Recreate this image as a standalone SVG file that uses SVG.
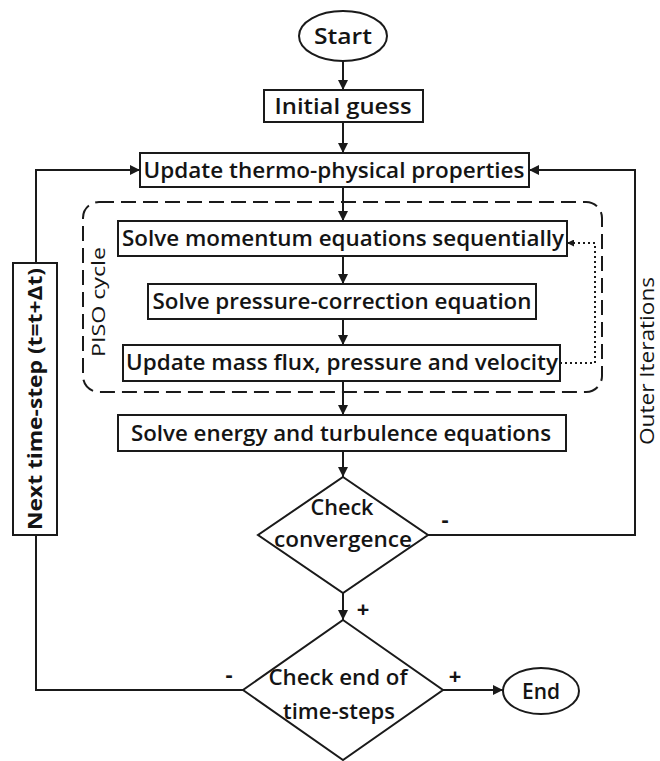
<svg xmlns="http://www.w3.org/2000/svg" width="660" height="761" viewBox="0 0 660 761">
<defs>
<marker id="ah" viewBox="0 0 10 10" refX="10" refY="5" markerWidth="10" markerHeight="10" markerUnits="userSpaceOnUse" orient="auto">
<path d="M0,0 L10,5 L0,10 z" fill="#1a1a1a"/>
</marker>
<marker id="ahs" viewBox="0 0 10 10" refX="10" refY="5" markerWidth="7" markerHeight="7" markerUnits="userSpaceOnUse" orient="auto">
<path d="M0,0 L10,5 L0,10 z" fill="#1a1a1a"/>
</marker>
<style>
.box{fill:#fff;stroke:#1a1a1a;stroke-width:2}
.t{font-family:"Open Sans","Liberation Sans",sans-serif;font-size:22px;font-weight:600;fill:#141414;text-anchor:middle}
.c{fill:none;stroke:#1a1a1a;stroke-width:2}
.ar{marker-end:url(#ah)}
.dash{fill:none;stroke:#1a1a1a;stroke-width:2;stroke-dasharray:15 7}
.dot{fill:none;stroke:#1a1a1a;stroke-width:2;stroke-dasharray:2 3}
.lbl{font-family:"Open Sans","Liberation Sans",sans-serif;font-size:22px;fill:#141414;font-weight:bold;text-anchor:middle}
.side{font-family:"Open Sans","Liberation Sans",sans-serif;font-weight:normal;fill:#141414;text-anchor:middle}
</style>
</defs>
<rect width="660" height="761" fill="#fff"/>

<g id="piso-cycle">
<rect class="dash" x="83" y="202" width="519" height="190" rx="16"/>
<text class="side" transform="translate(105,302) rotate(-90)" style="font-size:19px" textLength="110" lengthAdjust="spacingAndGlyphs">PISO cycle</text>
</g>

<g id="connectors">
<line class="c ar" x1="343" y1="61" x2="343" y2="90"/>
<line class="c ar" x1="343" y1="122" x2="343" y2="153"/>
<line class="c ar" x1="343" y1="187" x2="343" y2="221"/>
<line class="c ar" x1="343" y1="256" x2="343" y2="284"/>
<line class="c ar" x1="343" y1="319" x2="343" y2="345"/>
<line class="c ar" x1="343" y1="381" x2="343" y2="415"/>
<line class="c ar" x1="343" y1="451" x2="343" y2="477"/>
<line class="c ar" x1="343" y1="593" x2="343" y2="620"/>
<polyline class="c ar" points="428,535 635,535 635,170 529,170"/>
<polyline class="c" points="243,690 36,690 36,535"/>
<polyline class="c ar" points="36,263 36,170 140,170"/>
<line class="c ar" x1="442" y1="690" x2="503" y2="690"/>
<polyline class="dot" points="560,363 595,363 595,243 574,243"/>
<line x1="575" y1="243" x2="567" y2="243" stroke="#1a1a1a" stroke-width="2" marker-end="url(#ahs)"/>
<text class="lbl" x="445" y="527">-</text>
<text class="lbl" x="363" y="617">+</text>
<text class="lbl" x="229" y="682">-</text>
<text class="lbl" x="455" y="684">+</text>
<text class="side" transform="translate(654,361) rotate(-90)" style="font-size:20px" textLength="168" lengthAdjust="spacingAndGlyphs">Outer Iterations</text>
</g>

<g id="start">
<ellipse class="box" cx="343" cy="36" rx="44" ry="25"/>
<text class="t" x="343" y="44" textLength="58" lengthAdjust="spacingAndGlyphs">Start</text>
</g>

<g id="initial-guess">
<rect class="box" x="264" y="90" width="159" height="32"/>
<text class="t" x="343" y="114" textLength="137" lengthAdjust="spacingAndGlyphs">Initial guess</text>
</g>

<g id="update-thermo">
<rect class="box" x="140" y="153" width="389" height="34"/>
<text class="t" x="334" y="178" textLength="381" lengthAdjust="spacingAndGlyphs">Update thermo-physical properties</text>
</g>

<g id="solve-momentum">
<rect class="box" x="118" y="221" width="449" height="35"/>
<text class="t" x="343" y="246" textLength="442" lengthAdjust="spacingAndGlyphs">Solve momentum equations sequentially</text>
</g>

<g id="solve-pressure">
<rect class="box" x="148" y="284" width="388" height="35"/>
<text class="t" x="342" y="309" textLength="379" lengthAdjust="spacingAndGlyphs">Solve pressure-correction equation</text>
</g>

<g id="update-mass">
<rect class="box" x="123" y="345" width="437" height="36"/>
<text class="t" x="342" y="370" textLength="432" lengthAdjust="spacingAndGlyphs">Update mass flux, pressure and velocity</text>
</g>

<g id="solve-energy">
<rect class="box" x="118" y="415" width="448" height="36"/>
<text class="t" x="341" y="441" textLength="420" lengthAdjust="spacingAndGlyphs">Solve energy and turbulence equations</text>
</g>

<g id="check-convergence">
<polygon class="box" points="343,477 428,535 343,593 258,535"/>
<text class="t" x="342" y="515" textLength="63" lengthAdjust="spacingAndGlyphs">Check</text>
<text class="t" x="343" y="547" textLength="138" lengthAdjust="spacingAndGlyphs">convergence</text>
</g>

<g id="check-end">
<polygon class="box" points="343,620 443,690 343,760 243,690"/>
<text class="t" x="338" y="685" textLength="139" lengthAdjust="spacingAndGlyphs">Check end of</text>
<text class="t" x="339" y="719" textLength="112" lengthAdjust="spacingAndGlyphs">time-steps</text>
</g>

<g id="end">
<ellipse class="box" cx="541" cy="691" rx="38" ry="23"/>
<text class="t" x="541" y="699" textLength="38" lengthAdjust="spacingAndGlyphs">End</text>
</g>

<g id="next-time-step">
<rect class="box" x="13" y="263" width="44" height="272"/>
<text class="lbl" transform="translate(42,399) rotate(-90)" style="font-size:20px" textLength="262" lengthAdjust="spacingAndGlyphs">Next time-step (t=t+Δt)</text>
</g>
</svg>
